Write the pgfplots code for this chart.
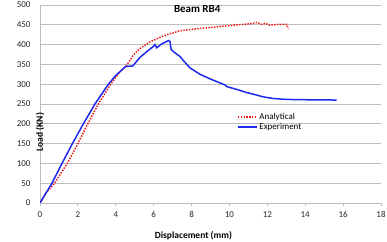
\documentclass[border=0pt]{standalone}
\usepackage{pgfplots}
\pgfplotsset{compat=1.18}
\usepackage{fontspec}
\setmainfont{Carlito}
\definecolor{gridc}{RGB}{190,190,190}
\definecolor{expblue}{RGB}{30,40,240}
\definecolor{anared}{RGB}{240,20,20}
\begin{document}
\begin{tikzpicture}
\begin{axis}[
  name=ax,
  scale only axis,
  width=341bp, height=198bp,
  xmin=0, xmax=18, ymin=0, ymax=500,
  xtick={0,2,...,18}, ytick={0,50,...,500},
  axis x line*=bottom, axis y line*=left,
  axis line style={gridc, line width=0.8bp},
  x axis line style={-}, y axis line style={-},
  ymajorgrids, grid style={gridc, line width=0.8bp},
  major tick length=3bp,
  xtick style={gridc, line width=0.8bp},
  ytick style={draw=none},
  tick align=outside,
  tick label style={font=\fontsize{9}{10}\selectfont, text=black!85},
  /pgf/number format/assume math mode=true,
  xticklabel style={yshift=-2bp},
  yticklabel style={xshift=-3bp},
  xlabel={\textbf{Displacement (mm)}},
  ylabel={\textbf{Load (KN)}},
  label style={font=\fontsize{9.5}{11}\selectfont},
  xlabel style={at={(axis description cs:0.45,0)}, anchor=center, yshift=-33bp},
  ylabel style={at={(axis description cs:0,0.5)}, anchor=center, xshift=-28bp},
  legend style={draw=none, fill=none, at={(rel axis cs:0.575,0.47)}, anchor=north west,
    font=\fontsize{9}{10}\selectfont, row sep=-1.5bp, inner sep=1bp},
  legend cell align=left,
  legend image post style={xscale=1.1},
]
\addplot[anared, line width=1.5bp, dash pattern=on 1.4bp off 1.4bp] coordinates {
(0,0) (0.3,25) (0.77,50) (1.44,100) (2.0,150) (2.52,200) (3.08,250) (3.73,300)
(4.2,330) (4.58,348) (4.93,374) (5.28,390) (5.81,407) (6.51,422) (7.39,435)
(8.45,441) (9.15,444) (10.0,448) (10.91,452) (11.2,453) (11.45,456) (11.7,451)
(11.9,454) (12.1,449) (12.5,451) (13.02,451) (13.1,440)
};
\addlegendentry{Analytical}
\addplot[expblue, line width=1.5bp] coordinates {
(0,0) (0.63,50) (1.16,100) (1.71,150) (2.29,200) (2.90,250) (3.61,300) (4.0,322)
(4.5,344) (4.6,345) (4.9,346) (5.28,368) (5.63,382) (6.0,396) (6.07,400) (6.16,392)
(6.4,401) (6.6,406) (6.78,410) (6.86,408) (6.92,388) (7.1,380) (7.39,370) (7.6,358)
(7.92,341) (8.45,325) (9.0,313) (9.77,298) (9.85,294) (10.3,288) (10.91,279)
(11.4,273) (11.79,268) (12.3,264) (12.85,262) (13.5,261) (15.66,260)
};
\addlegendentry{Experiment}
\node[font=\fontsize{11}{12}\selectfont\bfseries, anchor=center] at (rel axis cs:0.461,0.982) {Beam RB4};
\end{axis}
\pgfresetboundingbox
\path[use as bounding box] ([xshift=-40bp,yshift=-39bp]ax.south west) rectangle ([xshift=6bp,yshift=5bp]ax.north east);
\end{tikzpicture}
\end{document}
